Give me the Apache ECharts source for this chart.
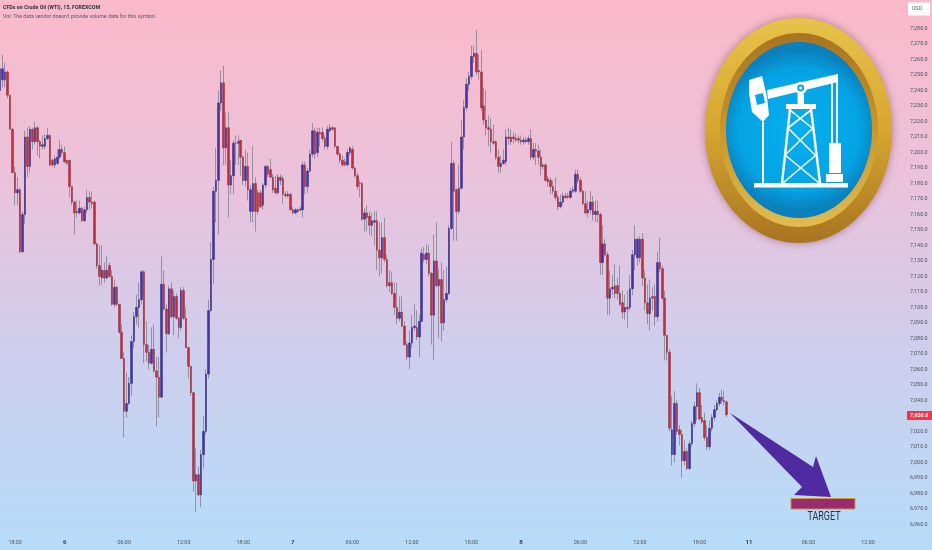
<!DOCTYPE html>
<html><head><meta charset="utf-8">
<style>html,body{margin:0;padding:0;background:#fff}#c{width:932px;height:550px}</style>
<script src="https://cdn.jsdelivr.net/npm/echarts@6/dist/echarts.min.js"></script>
</head><body><div id="c"></div><script>
const opens=[7240,7247,7247,7252,7237,7215,7187,7174,7176,7136,7160,7210,7191,7215,7207,7216,7207,7204,7204,7209,7211,7195,7192,7193,7197,7202,7200,7195,7195,7178,7168,7162,7161,7164,7156,7163,7171,7168,7168,7141,
7127,7119,7124,7119,7127,7120,7102,7113,7102,7084,7067,7033,7038,7051,7078,7094,7100,7105,7123,7076,7071,7064,7073,7059,7055,7042,7115,7099,7083,7112,7094,7107,7093,7087,7111,7093,7074,7062,7045,6988,
6992,6979,7005,7020,7057,7098,7131,7175,7182,7232,7245,7203,7216,7179,7185,7206,7206,7208,7197,7182,7191,7162,7162,7180,7174,7174,7166,7179,7191,7189,7184,7177,7174,7184,7183,7173,7172,7173,7163,7161,
7162,7163,7163,7192,7178,7188,7199,7214,7200,7213,7213,7209,7204,7214,7216,7216,7204,7199,7195,7194,7192,7200,7202,7190,7185,7180,7180,7157,7161,7159,7153,7155,7156,7137,7132,7145,7131,7116,7116,7109,
7100,7093,7097,7088,7076,7068,7077,7087,7087,7081,7091,7134,7131,7135,7122,7095,7130,7114,7118,7090,7105,7109,7151,7193,7176,7162,7177,7210,7229,7244,7249,7262,7264,7253,7252,7230,7221,7216,7215,7207,
7207,7197,7191,7193,7194,7210,7210,7210,7209,7209,7208,7207,7207,7207,7209,7197,7202,7201,7197,7192,7192,7183,7182,7178,7175,7171,7165,7168,7172,7172,7171,7175,7175,7186,7182,7175,7167,7161,7163,7168,
7160,7162,7160,7129,7141,7134,7106,7112,7114,7114,7109,7103,7097,7100,7100,7112,7134,7132,7132,7144,7119,7103,7096,7107,7107,7094,7129,7125,7106,7082,7071,7005,7005,7038,7021,7018,7001,7007,6996,7012,
7025,7036,7045,7029,7027,7016,7010,7022,7029,7034,7038,7042,7040,7039];
const closes=[7254,7254,7252,7237,7215,7187,7174,7176,7136,7160,7210,7191,7215,7207,7216,7207,7204,7205,7209,7211,7192,7192,7196,7197,7202,7200,7194,7193,7178,7168,7161,7161,7164,7156,7163,7171,7168,7167,7141,7127,
7120,7124,7119,7124,7120,7102,7113,7102,7084,7067,7033,7038,7051,7078,7094,7100,7105,7123,7076,7071,7064,7073,7059,7055,7042,7115,7099,7083,7112,7094,7107,7093,7087,7111,7093,7074,7062,7045,6988,6992,
6979,7005,7020,7057,7098,7131,7175,7182,7232,7245,7203,7216,7179,7185,7206,7206,7207,7197,7182,7191,7176,7176,7180,7162,7162,7165,7179,7191,7186,7184,7176,7174,7184,7182,7173,7172,7173,7163,7161,7163,
7163,7163.5,7192,7178,7188,7199,7214,7199,7213,7212,7209,7204,7215,7216,7215,7204,7199,7195,7192,7192,7200,7203,7190,7185,7178,7180,7157,7161,7158,7153,7156,7156,7137,7132,7145,7131,7114,7114,7109,7100,
7093,7097,7088,7076,7068,7077,7087,7088,7081,7091,7135,7131,7135,7122,7095,7130,7114,7118,7090,7105,7109,7151,7193,7175,7162,7177,7210,7229,7244,7249,7262,7264,7252,7252,7229,7221,7216,7215,7207,7206,
7197,7191,7193,7195,7210,7209,7207,7209,7208,7208,7207,7208,7208,7209,7197,7202,7201,7197,7191,7191,7182,7181,7178,7175,7171,7165,7168,7172,7171,7171,7175,7176,7186,7182,7175,7167,7161,7163,7168,7160,
7162,7160,7129,7141,7134,7106,7112,7113,7109,7109,7102,7097,7100,7099,7112,7134,7144,7144,7144,7119,7103,7096,7106,7106,7094,7129,7125,7106,7082,7071,7022,7021,7038,7020,7018,7001,7007,6996,7012,7025,
7036,7045,7028,7026,7016,7010,7022,7029,7034,7038,7042,7040,7039,7030.8];
const lows=[7239,7242,7242,7235,7215,7187,7166,7166,7135,7135,7154,7184,7187,7202,7205,7198,7196,7202,7202,7208,7191,7191,7190,7192,7196,7198,7193,7192,7171,7166,7147,7158,7160,7155,7155,7161,7163,7164,7140,7125,
7114,7115,7116,7118,7119,7101,7100,7101,7083,7067,7016,7029,7037,7043,7074,7089,7087,7102,7064,7065,7060,7063,7058,7023,7029,7042,7098,7071,7082,7093,7082,7092,7080,7085,7092,7074,7054,7043,6981,6968,
6978,6971,6996,7018,7054,7097,7115,7155,7147,7227,7192,7192,7158,7173,7173,7192,7192,7185,7179,7178,7169,7155,7155,7149,7160,7164,7163,7177,7184,7184,7174,7173,7173,7179,7167,7171,7171,7163,7160,7160,
7161,7162,7158,7173,7174,7187,7197,7196,7197,7204,7207,7202,7202,7213,7214,7203,7198,7193,7191,7191,7191,7198,7189,7184,7176,7171,7156,7149,7149,7147,7146,7140,7124,7120,7122,7129,7113,7110,7108,7095,
7089,7091,7087,7075,7066,7060,7074,7085,7079,7068,7091,7129,7128,7120,7076,7066,7113,7080,7078,7085,7103,7108,7150,7143,7143,7160,7176,7202,7227,7240,7247,7258,7250,7247,7227,7218,7211,7204,7200,7205,
7195,7187,7187,7192,7192,7205,7205,7206,7207,7206,7205,7205,7206,7205,7195,7195,7192,7192,7185,7189,7181,7178,7173,7173,7169,7163,7164,7166,7170,7170,7170,7174,7174,7180,7174,7166,7160,7158,7160,7156,
7155,7155,7121,7121,7133,7095,7095,7108,7106,7105,7101,7093,7092,7087,7098,7108,7124,7127,7129,7114,7098,7089,7085,7098,7088,7091,7123,7105,7066,7066,7020,6998,7000,7018,7011,6990,6998,6995,6995,7010,
7023,7027,7027,7025,7014,7008,7008,7020,7027,7033,7036,7038,7037,7029];
const highs=[7260,7263,7258,7253,7237,7216,7191,7184,7177,7162,7214,7216,7217,7216,7220,7217,7208,7211,7212,7216,7212,7196,7198,7202,7208,7205,7204,7195,7195,7178,7169,7169,7169,7165,7165,7176,7175,7175,7169,7142,
7140,7140,7129,7133,7129,7124,7118,7114,7102,7089,7071,7058,7055,7082,7097,7108,7116,7124,7124,7091,7076,7087,7089,7068,7068,7133,7124,7102,7114,7116,7111,7109,7094,7113,7113,7100,7075,7062,7045,7009,
6997,7008,7030,7060,7105,7142,7178,7203,7240,7253,7256,7226,7226,7195,7208,7211,7211,7208,7198,7202,7200,7179,7204,7184,7176,7176,7180,7192,7192,7196,7186,7185,7186,7186,7185,7175,7175,7174,7165,7164,
7164,7165,7194,7194,7190,7202,7219,7216,7216,7216,7216,7211,7217,7218,7217,7216,7204,7200,7198,7196,7202,7204,7204,7191,7187,7182,7181,7164,7166,7162,7161,7162,7162,7155,7155,7158,7134,7124,7123,7116,
7116,7107,7107,7091,7078,7085,7095,7102,7098,7095,7138,7139,7141,7140,7123,7147,7155,7125,7129,7124,7126,7153,7207,7195,7177,7192,7221,7234,7248,7252,7269,7269,7279,7263,7266,7242,7240,7224,7222,7218,
7208,7202,7198,7202,7215,7216,7215,7213,7212,7211,7211,7210,7210,7211,7215,7206,7206,7205,7202,7193,7193,7185,7184,7182,7184,7173,7173,7174,7174,7174,7177,7178,7189,7189,7184,7176,7175,7169,7175,7172,
7169,7169,7161,7153,7144,7136,7124,7121,7128,7119,7127,7111,7108,7111,7121,7137,7153,7145,7146,7148,7124,7115,7118,7113,7115,7136,7145,7127,7111,7082,7073,7043,7046,7040,7024,7021,7014,7009,7014,7027,
7039,7051,7048,7037,7032,7024,7027,7031,7037,7040,7045,7047,7046,7040];
const tickSlots=[6,26,50,74,98,118,142,166,190,210,234,258,282,302,326,350];
const tickNames=["18:00","6","06:00","12:00","18:00","7","06:00","12:00","18:00","8","06:00","12:00","18:00","11","06:00","12:00"];
const dayTicks=["6","7","8","11"];
const slotCount=365;
const lastPrice=7030.8;
const titleLine="CFDs on Crude Oil (WTI), 15, FOREXCOM";
const volLine="Vol: The data vendor doesn't provide volume data for this symbol.";

const categories=Array.from({length:slotCount},()=> "");
tickSlots.forEach((s,i)=>{categories[s]=tickNames[i]});
const wicks=opens.map((o,i)=>[o,closes[i],lows[i],highs[i]]);
const bodies=opens.map((o,i)=>[o,closes[i],Math.min(o,closes[i]),Math.max(o,closes[i])]);
const G=(stops,x2=0,y2=1)=>new echarts.graphic.LinearGradient(0,0,x2,y2,stops.map((c,i)=>({offset:c[0],color:c[1]})));
const W='#ffffff';
const line=(x1,y1,x2,y2,w=2)=>({type:'line',shape:{x1,y1,x2,y2},style:{stroke:W,lineWidth:w},z:6});
const rect=(x,y,w,h,f=W)=>({type:'rect',shape:{x,y,width:w,height:h},style:{fill:f},z:6});
const logo=[
 {type:'ellipse',shape:{cx:798.5,cy:130.5,rx:93.5,ry:112.5},style:{fill:G([[0,'#e8c24a'],[0.5,'#d6a630'],[1,'#a87420']]),shadowBlur:8,shadowColor:'rgba(90,40,60,0.45)'},z:3},
 {type:'ellipse',shape:{cx:799,cy:130,rx:79,ry:97},style:{fill:G([[0,'#a87420'],[0.5,'#c8962c'],[1,'#e0bc50']])},z:4},
 {type:'ellipse',shape:{cx:799,cy:130,rx:73,ry:88},style:{fill:new echarts.graphic.RadialGradient(0.5,0.5,0.55,[{offset:0,color:'#06aeee'},{offset:0.75,color:'#04a4e4'},{offset:1,color:'#0a80bc'}])},z:5},
 {type:'polygon',shape:{points:[[767,90],[838,74],[838,82],[768,99]]},style:{fill:W},z:6},
 {type:'polygon',shape:{points:[[749,80],[762,76],[767,97],[769,115],[763,122],[752,112],[749,93]]},style:{fill:W},z:6},
 {type:'polygon',shape:{points:[[755,95],[763,93],[765,103],[757,105]]},style:{fill:'#06a4e4'},z:7},
 line(763,122,763,183,2),
 {type:'circle',shape:{cx:800.7,cy:88,r:6.2},style:{fill:W},z:7},
 {type:'circle',shape:{cx:800.7,cy:88,r:3.4},style:{fill:'#06a4e4'},z:8},
 {type:'circle',shape:{cx:800.7,cy:88,r:1.6},style:{fill:W},z:9},
 rect(797.5,94,6.5,10),
 rect(786,104,30,5),
 line(790,109,782,183,2.4),line(811,109,820,183,2.4),
 line(790,110,812,128,1.6),line(811,110,788,128,1.6),
 line(788,128,815,155,1.6),line(813,128,785,155,1.6),
 line(785,155,819,183,1.6),line(816,155,783,183,1.6),
 line(832,82,832,143,1.8),line(837,80,837,143,1.8),
 rect(829,143,12,30),rect(826,174,17,8),rect(754,183,94,4.5)
];
const chart=echarts.init(document.getElementById('c'),null,{renderer:'canvas'});
chart.setOption({
 animation:false,
 backgroundColor:G([[0,'#fbb9c9'],[0.35,'#e9c3dc'],[0.62,'#d0cdec'],[0.82,'#c2d6f3'],[1,'#b6dcf9']]),
 grid:{left:-1,width:905,top:13.1,height:526.7,outerBoundsMode:'none'},
 xAxis:{type:'category',data:categories,boundaryGap:true,
  axisLine:{show:false},axisTick:{show:false},splitLine:{show:false},
  axisLabel:{interval:0,margin:0,fontSize:5.4,color:'#4c525e',fontFamily:'Roboto',
   formatter:v=>v===""?"":(dayTicks.includes(v)?`{d|${v}}`:v),
   rich:{d:{fontSize:6,fontWeight:'bold',color:'#3a4048',fontFamily:'Roboto'}}}},
 yAxis:{type:'value',min:6950,max:7290,interval:10,position:'right',scale:true,
  axisLine:{show:false},axisTick:{show:false},splitLine:{show:false},
  axisLabel:{margin:6,fontSize:5.4,color:'#4c525e',fontFamily:'Roboto',align:'left',showMinLabel:false,showMaxLabel:false,
   formatter:v=>v.toLocaleString('en-US',{minimumFractionDigits:1,maximumFractionDigits:1})}},
 series:[
  {name:'wicks',type:'candlestick',data:wicks,barWidth:1,clip:false,
   itemStyle:{color:'rgba(130,130,145,0.8)',color0:'rgba(130,130,145,0.8)',borderColor:'rgba(130,130,145,0.8)',borderColor0:'rgba(130,130,145,0.8)',borderWidth:1},z:2},
  {name:'bodies',type:'candlestick',data:bodies,barWidth:2,clip:false,
   itemStyle:{color:'#4632a4',color0:'#c42c3a',borderColor:'#35287f',borderColor0:'#8f2f3f',borderWidth:0.5},z:3}
 ],
 graphic:[
  ...logo,
  {type:'text',style:{x:3,y:5,text:titleLine,fontSize:5.3,fontWeight:'bold',fill:'#2c3038',fontFamily:'Roboto'},z:10},
  {type:'text',style:{x:3,y:14.5,text:volLine,fontSize:5.3,fill:'#555a66',fontFamily:'Roboto'},z:10},
  {type:'rect',shape:{x:908,y:2.5,width:22,height:13},style:{fill:'#ffffff'},z:10},
  {type:'text',style:{x:912,y:6,text:'USD',fontSize:5.2,fill:'#555c68',fontFamily:'Roboto'},z:11},
  {type:'rect',shape:{x:907,y:411,width:25,height:9},style:{fill:'#f23645'},z:10},
  {type:'text',style:{x:910,y:413,text:lastPrice.toLocaleString('en-US',{minimumFractionDigits:1}),fontSize:5.4,fontWeight:'bold',fill:'#fff',fontFamily:'Roboto'},z:11},
  {type:'polygon',shape:{points:[[730,413],[813,467],[816,456],[831,497],[794,495],[802,487]]},style:{fill:'#4f2aa0'},z:8},
  {type:'rect',shape:{x:791,y:498.5,width:64,height:10.5},style:{fill:'#9a2a72',stroke:'#c8963c',lineWidth:1},z:8},
  {type:'text',x:824,y:517,scaleX:0.69,style:{x:0,y:0,text:'TARGET',fontSize:13,align:'center',verticalAlign:'middle',fill:'#2a3240',fontFamily:'Roboto'},z:8}
 ]
});
</script></body></html>
